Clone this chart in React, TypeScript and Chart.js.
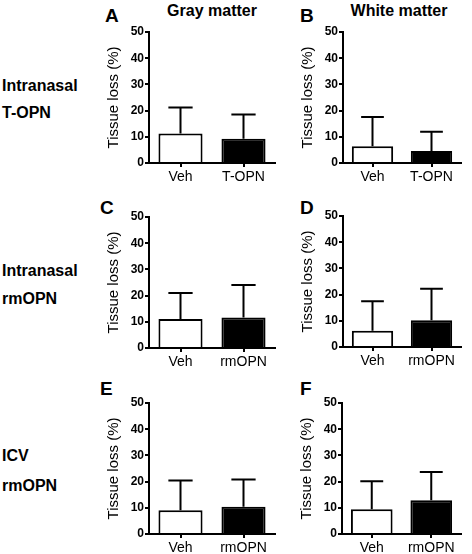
import React, { useEffect, useRef } from "react";
import { Chart, registerables } from "chart.js";

Chart.register(...registerables);

const FONT = "'Liberation Sans', Arial, sans-serif";

// Categories
const catsTOPN = ["Veh", "T-OPN"];
const catsRmOPN = ["Veh", "rmOPN"];
const yTickValues = [0, 10, 20, 30, 40, 50];

// Means (bar heights) and upper error-bar ends (%)
const meanA = [11.3, 9.3];
const upperA = [21.2, 18.5];
const meanB = [6.4, 4.6];
const upperB = [17.6, 11.9];
const meanC = [11.1, 11.6];
const upperC = [21.0, 24.0];
const meanD = [6.2, 10.2];
const upperD = [17.5, 22.2];
const meanE = [9.1, 10.4];
const upperE = [20.4, 20.8];
const meanF = [9.4, 12.9];
const upperF = [20.1, 23.7];

const errorBarPlugin = {
  id: "errorBars",
  afterDatasetsDraw(chart: any, _args: any, opts: any) {
    const tops: number[] = opts.tops || [];
    const meta = chart.getDatasetMeta(0);
    const y = chart.scales.y;
    const ctx = chart.ctx;
    ctx.save();
    ctx.strokeStyle = "#000";
    ctx.lineWidth = 2;
    ctx.lineCap = "butt";
    meta.data.forEach((bar: any, i: number) => {
      const yTop = y.getPixelForValue(tops[i]);
      const w = bar.width * 0.55;
      ctx.beginPath();
      ctx.moveTo(bar.x, bar.y);
      ctx.lineTo(bar.x, yTop);
      ctx.moveTo(bar.x - w / 2, yTop);
      ctx.lineTo(bar.x + w / 2, yTop);
      ctx.stroke();
    });
    ctx.restore();
  },
};

type PanelProps = {
  x0: number;
  x1: number;
  y0: number;
  y1: number;
  labels: string[];
  means: number[];
  uppers: number[];
};

const Y_W = 49;
const PAD_T = 10;
const PAD_R = 5;
const X_H = 20;

function Panel({ x0, x1, y0, y1, labels, means, uppers }: PanelProps) {
  const ref = useRef<HTMLCanvasElement | null>(null);
  const width = x1 - x0 + Y_W + PAD_R;
  const height = y1 - y0 + PAD_T + X_H;
  useEffect(() => {
    if (!ref.current) return;
    const chart = new Chart(ref.current, {
      type: "bar",
      data: {
        labels,
        datasets: [
          {
            data: means,
            backgroundColor: ["#ffffff", "#000000"],
            borderColor: "#000",
            borderWidth: 2,
            borderSkipped: "start",
            barPercentage: 0.7,
            categoryPercentage: 1,
          },
        ],
      },
      options: {
        responsive: false,
        animation: false,
        devicePixelRatio: 1,
        layout: { padding: { top: PAD_T, right: PAD_R, left: 0, bottom: 0 } },
        plugins: {
          legend: { display: false },
          tooltip: { enabled: false },
          errorBars: { tops: uppers },
        } as any,
        scales: {
          x: {
            offset: true,
            grid: {
              display: true,
              drawOnChartArea: false,
              drawTicks: true,
              tickLength: 4,
              offset: false,
              color: "#000",
              lineWidth: 2,
            },
            border: { display: true, color: "#000", width: 2, z: 1 },
            ticks: {
              color: "#000",
              padding: 2,
              font: { family: FONT, size: 14 },
              maxRotation: 0,
              autoSkip: false,
            },
            afterFit: (s: any) => {
              s.height = X_H;
            },
          },
          y: {
            min: 0,
            max: 50,
            afterBuildTicks: (s: any) => {
              s.ticks = yTickValues.map((v) => ({ value: v }));
            },
            grid: {
              display: true,
              drawOnChartArea: false,
              drawTicks: true,
              tickLength: 4,
              color: "#000",
              lineWidth: 2,
            },
            border: { display: true, color: "#000", width: 2 },
            ticks: {
              color: "#000",
              padding: 1,
              font: { family: FONT, size: 12, weight: "bold" },
            },
            title: {
              display: true,
              text: "Tissue loss (%)",
              color: "#000",
              padding: { top: 5, bottom: 0 },
              font: { family: FONT, size: 15 },
            },
            afterFit: (s: any) => {
              s.width = Y_W;
            },
          },
        },
      } as any,
      plugins: [errorBarPlugin],
    });
    return () => chart.destroy();
  }, []);
  return (
    <canvas
      ref={ref}
      width={width}
      height={height}
      style={{
        position: "absolute",
        left: x0 - Y_W,
        top: y0 - PAD_T,
        width,
        height,
      }}
    />
  );
}

function Txt({
  text,
  left,
  capTop,
  size,
  center,
}: {
  text: string;
  left: number;
  capTop: number;
  size: number;
  center?: boolean;
}) {
  return (
    <div
      style={{
        position: "absolute",
        left,
        top: capTop - 0.13 * size,
        fontFamily: FONT,
        fontWeight: "bold",
        fontSize: size,
        lineHeight: 1,
        whiteSpace: "nowrap",
        color: "#000",
        transform: center ? "translateX(-50%)" : undefined,
      }}
    >
      {text}
    </div>
  );
}

export default function App() {
  return (
    <div
      style={{
        position: "absolute",
        left: 0,
        top: 0,
        width: 472,
        height: 554,
        overflow: "hidden",
        background: "#fff",
      }}
    >
      <Txt text="Gray matter" left={212} capTop={5} size={16} center />
      <Txt text="White matter" left={399} capTop={5} size={16} center />
      <Txt text="A" left={105} capTop={8} size={19} />
      <Txt text="B" left={300} capTop={8} size={19} />
      <Txt text="C" left={100} capTop={200} size={19} />
      <Txt text="D" left={300} capTop={200} size={19} />
      <Txt text="E" left={100} capTop={381} size={19} />
      <Txt text="F" left={300} capTop={381} size={19} />

      <Txt text="Intranasal" left={2} capTop={80} size={16} />
      <Txt text="T-OPN" left={2} capTop={107} size={16} />
      <Txt text="Intranasal" left={2} capTop={265} size={16} />
      <Txt text="rmOPN" left={2} capTop={293} size={16} />
      <Txt text="ICV" left={2} capTop={450} size={16} />
      <Txt text="rmOPN" left={2} capTop={480} size={16} />

      <Panel x0={149} x1={275} y0={32} y1={163} labels={catsTOPN} means={meanA} uppers={upperA} />
      <Panel x0={343} x1={461} y0={32} y1={163} labels={catsTOPN} means={meanB} uppers={upperB} />
      <Panel x0={149} x1={275} y0={217} y1={348} labels={catsRmOPN} means={meanC} uppers={upperC} />
      <Panel x0={343} x1={461} y0={216} y1={347} labels={catsRmOPN} means={meanD} uppers={upperD} />
      <Panel x0={149} x1={275} y0={403} y1={534} labels={catsRmOPN} means={meanE} uppers={upperE} />
      <Panel x0={342} x1={461} y0={403} y1={534} labels={catsRmOPN} means={meanF} uppers={upperF} />
    </div>
  );
}
